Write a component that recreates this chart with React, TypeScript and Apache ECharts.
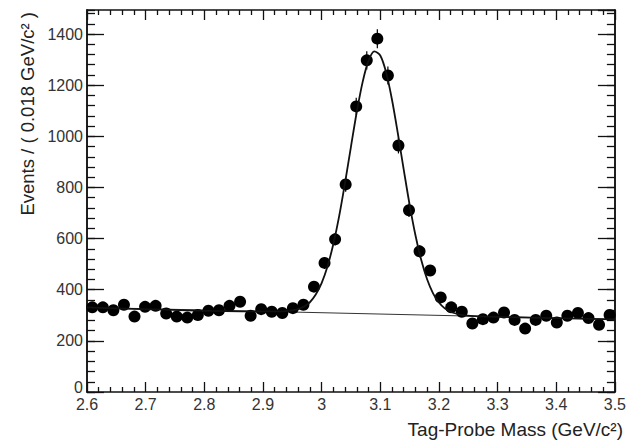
import React, { useEffect, useRef } from "react";
import * as echarts from "echarts";

// Bin centres (GeV/c^2), bin width 0.018
const binCenters = [
  2.609, 2.627, 2.645, 2.663, 2.681, 2.699, 2.717, 2.735, 2.753, 2.771,
  2.789, 2.807, 2.825, 2.843, 2.861, 2.879, 2.897, 2.915, 2.933, 2.951,
  2.969, 2.987, 3.005, 3.023, 3.041, 3.059, 3.077, 3.095, 3.113, 3.131,
  3.149, 3.167, 3.185, 3.203, 3.221, 3.239, 3.257, 3.275, 3.293, 3.311,
  3.329, 3.347, 3.365, 3.383, 3.401, 3.419, 3.437, 3.455, 3.473, 3.491,
];

// Events per bin
const events = [
  331, 331, 320, 341, 295, 333, 337, 307, 295, 291,
  301, 318, 320, 337, 353, 298, 324, 314, 309, 328,
  341, 412, 505, 597, 812, 1117, 1297, 1382, 1238, 964,
  711, 550, 475, 370, 331, 314, 268, 285, 291, 311,
  282, 248, 282, 298, 272, 298, 309, 289, 263, 301,
];

// Fitted total curve
const fitX = [
  2.6, 2.9, 2.92, 2.94, 2.95, 2.96, 2.97, 2.98, 2.99, 3.0,
  3.01, 3.02, 3.03, 3.04, 3.05, 3.06, 3.07, 3.08, 3.09, 3.1,
  3.11, 3.12, 3.13, 3.14, 3.15, 3.16, 3.17, 3.18, 3.19, 3.2,
  3.21, 3.22, 3.23, 3.24, 3.26, 3.28, 3.5,
];
const fitY = [
  331, 315, 315, 316, 319, 324, 334, 351, 381, 426,
  491, 579, 689, 819, 959, 1096, 1213, 1296, 1332, 1316,
  1250, 1143, 1011, 870, 733, 613, 515, 440, 386, 350,
  327, 314, 306, 301, 297, 295, 284,
];

// Background component (linear)
const bgX = [2.6, 3.5];
const bgY = [331, 284];

const xTitle = "Tag-Probe Mass (GeV/c\u00B2)";
const yTitle = "Events / ( 0.018 GeV/c\u00B2 )";

const X_MIN = 2.6;
const X_MAX = 3.5;
const Y_MIN = 0;
const Y_MAX = 1494;

const FONT = "'Liberation Sans', Arial, Helvetica, sans-serif";

export default function App() {
  const ref = useRef<HTMLDivElement>(null);

  useEffect(() => {
    if (!ref.current) return;
    const chart = echarts.init(ref.current, undefined, { renderer: "svg" });

    const frameLine = { show: true, lineStyle: { color: "#111", width: 1.5 } };

    const xBase = (pos: "bottom" | "top", labels: boolean) => ({
      type: "value" as const,
      position: pos,
      min: X_MIN,
      max: X_MAX,
      interval: 0.1,
      axisLine: { ...frameLine, onZero: false },
      axisTick: { show: true, inside: true, length: 10, lineStyle: { color: "#111", width: 1.3 } },
      minorTick: { show: true, splitNumber: 5, length: 5, lineStyle: { color: "#111", width: 1.3 } },
      splitLine: { show: false },
      minorSplitLine: { show: false },
      axisLabel: labels
        ? {
            show: true,
            margin: 4,
            fontSize: 16,
            fontFamily: FONT,
            color: "#333",
            showMinLabel: true,
            showMaxLabel: true,
          }
        : { show: false },
    });

    const yBase = (pos: "left" | "right", interval: number, tickLen: number, labels: boolean) => ({
      type: "value" as const,
      position: pos,
      min: Y_MIN,
      max: Y_MAX,
      interval,
      axisLine: { ...frameLine, onZero: false },
      axisTick: { show: true, inside: true, length: tickLen, lineStyle: { color: "#111", width: 1.3 } },
      splitLine: { show: false },
      axisLabel: labels
        ? {
            show: true,
            margin: 4,
            fontSize: 16,
            fontFamily: FONT,
            color: "#333",
            showMaxLabel: false,
            formatter: (v: number) =>
              Math.abs(v) < 1e-6 ? "{zero|0}" : Math.abs(v % 200) < 1e-6 ? String(v) : "",
            rich: {
              zero: {
                fontSize: 16,
                fontFamily: FONT,
                color: "#333",
                padding: [0, 0, 10, 0],
              },
            },
          }
        : { show: false },
    });

    const points = binCenters.map((x, i) => [x, events[i]]);
    const fit = fitX.map((x, i) => [x, fitY[i]]);
    const bg = bgX.map((x, i) => [x, bgY[i]]);

    chart.setOption({
      animation: false,
      backgroundColor: "#fff",
      grid: { left: 87, right: 6, top: 10, bottom: 51, containLabel: false },
      xAxis: [xBase("bottom", true), xBase("top", false)],
      yAxis: [
        yBase("left", 200, 17, true),
        yBase("left", 40, 8, false),
        yBase("right", 200, 17, false),
        yBase("right", 40, 8, false),
      ],
      series: [
        {
          type: "line",
          data: bg,
          xAxisIndex: 0,
          yAxisIndex: 0,
          showSymbol: false,
          symbol: "none",
          lineStyle: { color: "#333", width: 1 },
          z: 2,
        },
        {
          type: "custom",
          xAxisIndex: 0,
          yAxisIndex: 0,
          data: points,
          renderItem: (_params: any, api: any) => {
            const x = api.value(0);
            const y = api.value(1);
            const e = Math.sqrt(y);
            const top = api.coord([x, y + e]);
            const bot = api.coord([x, y - e]);
            return {
              type: "line",
              shape: { x1: top[0], y1: top[1], x2: bot[0], y2: bot[1] },
              style: { stroke: "#000", lineWidth: 1.2 },
            };
          },
          z: 3,
        },
        {
          type: "scatter",
          data: points,
          xAxisIndex: 0,
          yAxisIndex: 0,
          symbol: "circle",
          symbolSize: 12,
          itemStyle: { color: "#000", opacity: 1 },
          z: 4,
        },
        {
          type: "line",
          data: fit,
          xAxisIndex: 0,
          yAxisIndex: 0,
          showSymbol: false,
          symbol: "none",
          smooth: 0.3,
          lineStyle: { color: "#111", width: 1.8 },
          z: 5,
        },
      ],
      graphic: [
        {
          type: "text",
          right: 6,
          top: 420,
          style: {
            text: xTitle,
            font: `19px ${FONT}`,
            fill: "#222",
          },
        },
        {
          type: "text",
          x: 27,
          y: 12,
          rotation: Math.PI / 2,
          style: {
            text: yTitle,
            font: `18.5px ${FONT}`,
            fill: "#222",
            textAlign: "right",
            textVerticalAlign: "middle",
          },
        },
      ],
    });

    return () => chart.dispose();
  }, []);

  return (
    <div
      ref={ref}
      style={{ position: "absolute", left: 0, top: 0, width: 629, height: 443 }}
    />
  );
}
